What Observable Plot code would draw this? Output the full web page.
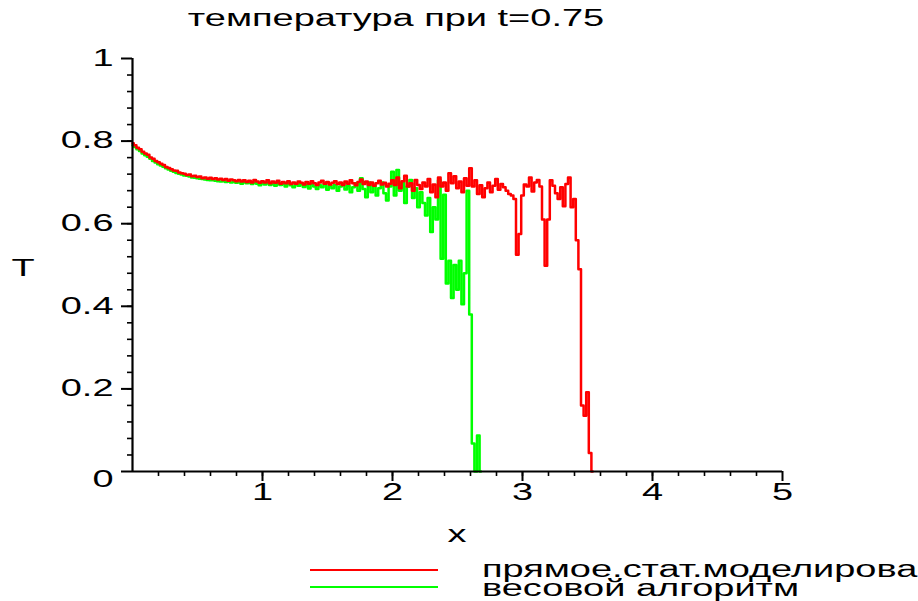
<!DOCTYPE html>
<html><head><meta charset="utf-8">
<script src="https://cdn.jsdelivr.net/npm/d3@7"></script>
<script src="https://cdn.jsdelivr.net/npm/@observablehq/plot@0.6"></script>
<style>
body{margin:0;background:#fff;overflow:hidden;}
#wrap{position:relative;width:918px;height:601px;overflow:hidden;font-family:"Liberation Sans",Arial,sans-serif;color:#000;}
.lbl{position:absolute;white-space:nowrap;font-size:23px;line-height:1;}
.lbl.leg{line-height:16px;}
.key{position:absolute;height:2px;}
</style></head><body><div id="wrap"></div>
<script>
// ---- data ----
const titleText = "температура при t=0.75";
const xLabel = "x";
const yLabel = "T";
const seriesNames = ["прямое.стат.моделирование", "весовой алгоритм"];
const seriesColors = ["#ff0000", "#00ff00"];
const xTicks = [1, 2, 3, 4, 5];
const yTicks = [0, 0.2, 0.4, 0.6, 0.8, 1];

const xsRed = [
0.00,0.02,0.04,0.06,0.08,0.10,0.12,0.14,0.16,0.18,
0.20,0.22,0.24,0.26,0.28,0.30,0.32,0.34,0.36,0.38,
0.40,0.42,0.44,0.46,0.48,0.50,0.52,0.54,0.56,0.58,
0.60,0.62,0.64,0.66,0.68,0.70,0.72,0.74,0.76,0.78,
0.80,0.82,0.84,0.86,0.88,0.90,0.92,0.94,0.96,0.98,
1.00,1.02,1.04,1.06,1.08,1.10,1.12,1.14,1.16,1.18,
1.20,1.22,1.24,1.26,1.28,1.30,1.32,1.34,1.36,1.38,
1.40,1.42,1.44,1.46,1.48,1.50,1.52,1.54,1.56,1.58,
1.60,1.62,1.64,1.66,1.68,1.70,1.72,1.74,1.76,1.78,
1.80,1.82,1.84,1.86,1.88,1.90,1.92,1.94,1.96,1.98,
2.00,2.02,2.04,2.06,2.08,2.10,2.12,2.14,2.16,2.18,
2.20,2.22,2.24,2.26,2.28,2.30,2.32,2.34,2.36,2.38,
2.40,2.42,2.44,2.46,2.48,2.50,2.52,2.54,2.56,2.58,
2.60,2.62,2.64,2.66,2.68,2.70,2.72,2.74,2.76,2.78,
2.80,2.82,2.84,2.86,2.88,2.90,2.92,2.94,2.96,2.98,
3.00,3.02,3.04,3.06,3.08,3.10,3.12,3.14,3.16,3.18,
3.20,3.22,3.24,3.26,3.28,3.30,3.32,3.34,3.36,3.38,
3.40,3.42,3.44,3.46,3.48,3.50,3.52,3.54];

const redT = [
0.795,0.790,0.784,0.780,0.774,0.770,0.767,0.760,0.757,0.752,
0.749,0.745,0.742,0.737,0.735,0.732,0.729,0.728,0.724,0.722,
0.721,0.718,0.719,0.715,0.716,0.713,0.714,0.710,0.712,0.709,
0.711,0.708,0.710,0.707,0.709,0.706,0.708,0.704,0.707,0.705,
0.703,0.706,0.702,0.705,0.701,0.704,0.700,0.706,0.702,0.699,
0.703,0.700,0.705,0.698,0.702,0.699,0.704,0.697,0.701,0.698,
0.703,0.696,0.700,0.697,0.702,0.699,0.695,0.701,0.697,0.703,
0.698,0.694,0.700,0.704,0.697,0.701,0.695,0.699,0.703,0.696,
0.700,0.694,0.702,0.697,0.705,0.698,0.693,0.701,0.707,0.696,
0.702,0.694,0.700,0.692,0.698,0.704,0.695,0.699,0.690,0.697,
0.705,0.694,0.712,0.686,0.703,0.716,0.690,0.698,0.680,0.706,
0.694,0.684,0.700,0.690,0.708,0.676,0.695,0.664,0.712,0.690,
0.700,0.680,0.722,0.698,0.715,0.686,0.702,0.676,0.710,0.692,
0.734,0.690,0.705,0.672,0.693,0.664,0.686,0.700,0.676,0.692,
0.708,0.682,0.696,0.688,0.680,0.672,0.668,0.660,0.525,0.575,
0.668,0.695,0.690,0.712,0.678,0.700,0.706,0.690,0.610,0.498,
0.610,0.705,0.692,0.674,0.660,0.688,0.642,0.696,0.712,0.640,
0.660,0.560,0.490,0.160,0.135,0.192,0.045,0.000];

const xsGreen = [
0.00,0.02,0.04,0.06,0.08,0.10,0.12,0.14,0.16,0.18,
0.20,0.22,0.24,0.26,0.28,0.30,0.32,0.34,0.36,0.38,
0.40,0.42,0.44,0.46,0.48,0.50,0.52,0.54,0.56,0.58,
0.60,0.62,0.64,0.66,0.68,0.70,0.72,0.74,0.76,0.78,
0.80,0.82,0.84,0.86,0.88,0.90,0.92,0.94,0.96,0.98,
1.00,1.02,1.04,1.06,1.08,1.10,1.12,1.14,1.16,1.18,
1.20,1.22,1.24,1.26,1.28,1.30,1.32,1.34,1.36,1.38,
1.40,1.42,1.44,1.46,1.48,1.50,1.52,1.54,1.56,1.58,
1.60,1.62,1.64,1.66,1.68,1.70,1.72,1.74,1.76,1.78,
1.80,1.82,1.84,1.86,1.88,1.90,1.92,1.94,1.96,1.98,
2.00,2.02,2.04,2.06,2.08,2.10,2.12,2.14,2.16,2.18,
2.20,2.22,2.24,2.26,2.28,2.30,2.32,2.34,2.36,2.38,
2.40,2.42,2.44,2.46,2.48,2.50,2.52,2.54,2.56,2.58,
2.60,2.62,2.64,2.66,2.68];

const greenT = [
0.790,0.786,0.780,0.776,0.770,0.766,0.762,0.757,0.752,0.748,
0.744,0.741,0.738,0.734,0.731,0.728,0.726,0.723,0.721,0.719,
0.717,0.716,0.714,0.712,0.711,0.710,0.709,0.708,0.707,0.706,
0.705,0.705,0.704,0.703,0.702,0.703,0.701,0.702,0.700,0.701,
0.699,0.700,0.697,0.701,0.698,0.699,0.696,0.700,0.697,0.693,
0.698,0.695,0.699,0.694,0.697,0.692,0.698,0.694,0.696,0.690,
0.697,0.693,0.688,0.696,0.692,0.697,0.689,0.694,0.685,0.696,
0.690,0.684,0.693,0.688,0.696,0.682,0.692,0.686,0.694,0.680,
0.690,0.696,0.683,0.692,0.676,0.688,0.698,0.680,0.710,0.684,
0.664,0.700,0.676,0.692,0.668,0.686,0.700,0.674,0.656,0.690,
0.726,0.668,0.730,0.680,0.700,0.650,0.690,0.706,0.662,0.686,
0.640,0.676,0.650,0.620,0.662,0.580,0.640,0.610,0.705,0.515,
0.670,0.455,0.510,0.420,0.500,0.440,0.510,0.405,0.480,0.680,
0.380,0.068,0.000,0.087,0.000];

// ---- build ----
const red = xsRed.map((x, i) => ({x, T: redT[i]}));
const green = xsGreen.map((x, i) => ({x, T: greenT[i]}));
const xMinor = d3.range(1, 25).map(i => i / 5);
const yMinor = d3.range(1, 25).map(i => i / 25);

const W = 918, H = 601;
const plot = Plot.plot({
  width: W, height: H,
  marginLeft: 132, marginRight: 136, marginTop: 58, marginBottom: 130,
  style: {fontFamily: "Liberation Sans, Arial, sans-serif", fontSize: "23px", color: "#000", background: "#fff", overflow: "visible"},
  x: {domain: [0, 5]},
  y: {domain: [0, 1]},
  marks: [
    Plot.axisY(yMinor, {tickSize: 5, tickFormat: () => "", strokeWidth: 1.6, label: null}),
    Plot.axisY(yTicks, {tickSize: 11, tickPadding: 8, tickFormat: d => String(d), fontSize: 23, strokeWidth: 2, label: null}),
    Plot.axisX(xMinor, {tickSize: 5, tickFormat: () => "", strokeWidth: 1.6, label: null}),
    Plot.axisX(xTicks, {tickSize: 10, tickPadding: 2, tickFormat: d => String(d), fontSize: 23, strokeWidth: 2, label: null}),
    Plot.line(green, {x: "x", y: "T", stroke: seriesColors[1], strokeWidth: 2.5, curve: "step"}),
    Plot.line(red, {x: "x", y: "T", stroke: seriesColors[0], strokeWidth: 2.5, curve: "step"}),
    Plot.ruleX([0], {strokeWidth: 2.2}),
    Plot.ruleY([0], {strokeWidth: 2.2})
  ]
});

// stretch tick labels horizontally like the original
const SX = 1.65;
plot.querySelectorAll('g[aria-label$="tick label"] text').forEach(t => {
  let tr = t.getAttribute("transform");
  if (!tr) {
    const x = +t.getAttribute("x") || 0, y = +t.getAttribute("y") || 0;
    t.removeAttribute("x"); t.removeAttribute("y");
    tr = `translate(${x},${y})`;
  }
  // the "0" of the T axis sits a little lower in the original
  const isYZero = t.closest('g[aria-label="y-axis tick label"]') && t.textContent === "0";
  t.setAttribute("transform", tr + (isYZero ? " translate(0,8)" : "") + ` scale(${SX},1)`);
});

const wrap = document.getElementById("wrap");
wrap.appendChild(plot);

function label(text, x, y, anchor, cls) {
  const d = document.createElement("div");
  d.className = "lbl" + (cls ? " " + cls : "");
  d.textContent = text;
  d.style.left = x + "px";
  d.style.top = y + "px";
  d.style.transformOrigin = "0 0";
  d.style.transform = anchor === "middle"
    ? `scaleX(${SX}) translate(-50%,-50%)`
    : `scaleX(${SX}) translate(0,-50%)`;
  wrap.appendChild(d);
  return d;
}
label(titleText, 396, 18, "middle");
label(xLabel, 457, 534, "middle");
label(yLabel, 23, 268, "middle");

const keyY = [570, 587];
seriesNames.forEach((name, i) => {
  const k = document.createElement("div");
  k.className = "key";
  k.style.left = "310px"; k.style.width = "128px";
  k.style.top = (keyY[i] - 1) + "px";
  k.style.background = seriesColors[i];
  wrap.appendChild(k);
  label(name, 482, keyY[i] + (i === 0 ? -1 : 1), "left", "leg");
});
</script></body></html>
